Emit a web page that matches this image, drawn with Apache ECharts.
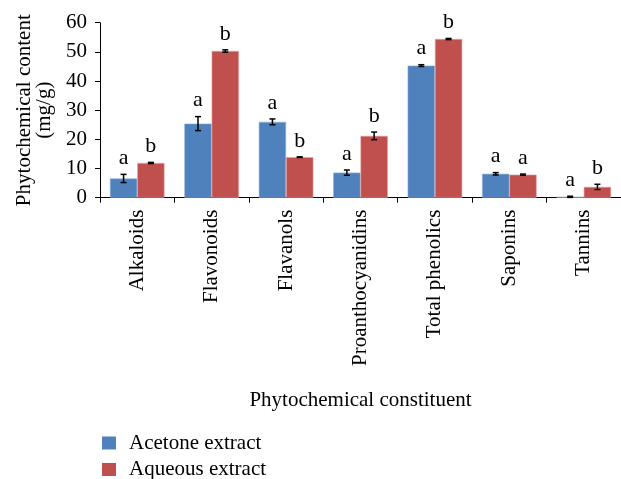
<!DOCTYPE html>
<html>
<head>
<meta charset="utf-8">
<script src="https://cdn.jsdelivr.net/npm/echarts@6/dist/echarts.min.js"></script>
<style>
  html, body { margin: 0; padding: 0; background: #fff; }
  #chart { width: 621px; height: 479px; }
</style>
</head>
<body>
<div id="chart"></div>
<script>
const categories = ['Alkaloids', 'Flavonoids', 'Flavanols', 'Proanthocyanidins', 'Total phenolics', 'Saponins', 'Tannins'];
const acetone = [6.6, 25.4, 26.0, 8.6, 45.3, 8.2, 0.3];
const aqueous = [11.9, 50.3, 13.9, 21.2, 54.4, 7.9, 3.7];
const acetoneErr = [1.4, 2.4, 1.0, 0.9, 0.3, 0.4, 0.2];
const aqueousErr = [0.2, 0.4, 0.1, 1.3, 0.2, 0.2, 0.9];
const acetoneLetters = ['a', 'a', 'a', 'a', 'a', 'a', 'a'];
const aqueousLetters = ['b', 'b', 'b', 'b', 'b', 'a', 'b'];
const yTicks = [0, 10, 20, 30, 40, 50, 60];

const FONT = 'Liberation Serif';
const BLUE = '#4F81BD';
const RED = '#C0504D';
const GAP = 0.267;

function errData(vals, errs, letters) {
  return vals.map((v, i) => [i, v, errs[i], letters[i]]);
}

function makeErr(side) {
  return function (params, api) {
    const i = api.value(0);
    const v = api.value(1);
    const e = api.value(2);
    const letter = api.value(3);
    const catW = api.size([1, 0])[0];
    const barW = catW * (1 - GAP) / 2;
    const c = api.coord([i, v]);
    const x = c[0] + side * barW / 2;
    const yHi = api.coord([i, v + e])[1];
    const yLo = api.coord([i, v - e])[1];
    const cap = 3;
    const st = { stroke: '#000', lineWidth: 1.5 };
    return {
      type: 'group',
      children: [
        { type: 'line', shape: { x1: x, y1: yHi, x2: x, y2: yLo }, style: st },
        { type: 'line', shape: { x1: x - cap, y1: yHi, x2: x + cap, y2: yHi }, style: st },
        { type: 'line', shape: { x1: x - cap, y1: yLo, x2: x + cap, y2: yLo }, style: st },
        { type: 'text', x: x, y: yHi - 5, style: { text: letter, fill: '#000', font: '22px "' + FONT + '"', align: 'center', verticalAlign: 'bottom' } }
      ]
    };
  };
}

const legendBase = {
  orient: 'vertical', left: 97,
  itemWidth: 14, itemHeight: 13, icon: 'rect',
  itemStyle: { borderWidth: 0 },
  textStyle: { fontFamily: FONT, fontSize: 21, color: '#000', padding: [0, 0, 0, 8] }
};

const chart = echarts.init(document.getElementById('chart'), null, { renderer: 'canvas' });
chart.setOption({
  animation: false,
  backgroundColor: '#fff',
  textStyle: { fontFamily: FONT, color: '#000' },
  grid: { left: 100, top: 22.7, right: -4, bottom: 281.3, containLabel: false },
  legend: [
    Object.assign({}, legendBase, { top: 427.5, data: ['Acetone extract'] }),
    Object.assign({}, legendBase, { top: 454, data: ['Aqueous extract'] })
  ],
  xAxis: {
    type: 'category', data: categories,
    name: 'Phytochemical constituent', nameLocation: 'middle', nameGap: 192,
    nameTextStyle: { fontFamily: FONT, fontSize: 21, color: '#000' },
    axisLine: { lineStyle: { color: '#000', width: 1 } },
    axisTick: { show: true, length: 5, lineStyle: { color: '#000' } },
    axisLabel: { rotate: 90, interval: 0, margin: 12, fontFamily: FONT, fontSize: 21, color: '#000' },
    splitLine: { show: false }
  },
  yAxis: {
    type: 'value', min: 0, max: 60, interval: 10,
    name: 'Phytochemical content\n(mg/g)', nameLocation: 'middle', nameGap: 46, nameRotate: 90,
    nameTextStyle: { fontFamily: FONT, fontSize: 21, color: '#000', lineHeight: 20 },
    axisLine: { show: true, lineStyle: { color: '#000', width: 1 } },
    axisTick: { show: true, length: 5, lineStyle: { color: '#000' } },
    axisLabel: { margin: 13, fontFamily: FONT, fontSize: 21, color: '#000',
      formatter: v => yTicks.includes(v) ? String(v) : '' },
    splitLine: { show: false }
  },
  series: [
    { name: 'Acetone extract', type: 'bar', data: acetone, barGap: '0%', barCategoryGap: (GAP * 100) + '%',
      itemStyle: { color: BLUE, borderColor: '#8fb0d8', borderWidth: 0.6 } },
    { name: 'Aqueous extract', type: 'bar', data: aqueous, barGap: '0%', barCategoryGap: (GAP * 100) + '%',
      itemStyle: { color: RED, borderColor: '#e8a0a0', borderWidth: 0.6 } },
    { type: 'custom', renderItem: makeErr(-1), data: errData(acetone, acetoneErr, acetoneLetters), z: 10, silent: true },
    { type: 'custom', renderItem: makeErr(1), data: errData(aqueous, aqueousErr, aqueousLetters), z: 10, silent: true }
  ]
});
</script>
</body>
</html>
